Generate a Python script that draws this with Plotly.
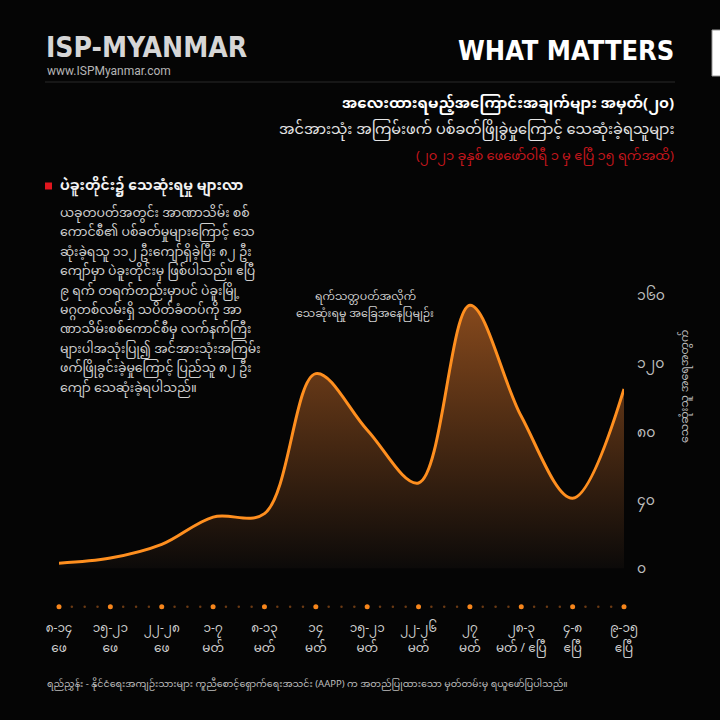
import plotly.graph_objects as go

# -- data
week_days = ["၈-၁၄", "၁၅-၂၁", "၂၂-၂၈", "၁-၇", "၈-၁၃", "၁၄",
             "၁၅-၂၁", "၂၂-၂၆", "၂၇", "၂၈-၃", "၄-၈", "၉-၁၅"]
week_months = ["ဖေ", "ဖေ", "ဖေ", "မတ်", "မတ်", "မတ်",
               "မတ်", "မတ်", "မတ်", "မတ် / ဧပြီ", "ဧပြီ", "ဧပြီ"]
deaths = [3, 6, 14, 30, 32, 114, 81, 50, 154, 89, 41, 105]
y_ticks = [0, 40, 80, 120, 160]
y_tick_labels = ["၀", "၄၀", "၈၀", "၁၂၀", "၁၆၀"]

para_lines = [
    "ယခုတပတ်အတွင်း အာဏာသိမ်း စစ်",
    "ကောင်စီ၏ ပစ်ခတ်မှုများကြောင့် သေ",
    "ဆုံးခဲ့ရသူ ၁၁၂ ဦးကျော်ရှိခဲ့ပြီး ၈၂ ဦး",
    "ကျော်မှာ ပဲခူးတိုင်းမှ ဖြစ်ပါသည်။ ဧပြီ",
    "၉ ရက် တရက်တည်းမှာပင် ပဲခူးမြို့",
    "မဂ္ဂတစ်လမ်းရှိ သပိတ်ခံတပ်ကို အာ",
    "ဏာသိမ်းစစ်ကောင်စီမှ လက်နက်ကြီး",
    "များပါအသုံးပြု၍ အင်အားသုံးအကြမ်း",
    "ဖက်ဖြိုခွင်းခဲ့မှုကြောင့် ပြည်သူ ၈၂ ဦး",
    "ကျော် သေဆုံးခဲ့ရပါသည်။",
]

W, H = 720, 720
L, R, T, B = 59, 96, 278, 109
MM = "Noto Sans Myanmar, Padauk, Myanmar Text, Noto Sans, DejaVu Sans"
HEAD = "DejaVu Sans Condensed, Liberation Sans Narrow, Arial Narrow, DejaVu Sans"


def px(x):
    return (x - L) / (W - L - R)


def py(y):
    return (H - B - y) / (H - T - B)


x_idx = list(range(len(deaths)))
dot_big = x_idx
dot_small = [i + f for i in x_idx[:-1] for f in (0.25, 0.5, 0.75)]

fig = go.Figure()

# area + line
fig.add_trace(go.Scatter(
    x=x_idx, y=deaths, mode="lines",
    line=dict(color="#ff8f1f", width=3, shape="spline", smoothing=1),
    fill="tozeroy",
    fillgradient=dict(type="vertical", start=0, stop=160,
                      colorscale=[[0, "#0c0a09"], [1, "#8a4b1d"]]),
    hoverinfo="skip", showlegend=False,
))

# dotted baseline under the chart
fig.add_trace(go.Scatter(
    x=dot_small, y=[-22.5] * len(dot_small), mode="markers",
    marker=dict(color="#6b3a14", size=2.5), cliponaxis=False,
    hoverinfo="skip", showlegend=False,
))
fig.add_trace(go.Scatter(
    x=dot_big, y=[-22.5] * len(dot_big), mode="markers",
    marker=dict(color="#f7861c", size=5), cliponaxis=False,
    hoverinfo="skip", showlegend=False,
))

axis_common = dict(range=[0, len(deaths) - 1], tickvals=x_idx, showgrid=False, zeroline=False,
                   showline=False, ticks="", fixedrange=True,
                   tickfont=dict(family=MM, size=12, color="#cfcfcf"))
fig.update_layout(
    xaxis=dict(ticktext=week_days, ticklabelstandoff=8, **axis_common),
    # second row of tick labels (month names) on an overlaid axis
    xaxis2=dict(ticktext=week_months, overlaying="x", side="bottom", anchor="y",
                ticklabelstandoff=28, **axis_common),
)
fig.update_yaxes(
    range=[-25, 170], side="right", tickvals=y_ticks, ticktext=y_tick_labels,
    showgrid=False, zeroline=False, showline=False, ticks="",
    tickfont=dict(family=MM, size=14, color="#bdbdbd"),
    ticklabelstandoff=12, fixedrange=True,
)
# invisible trace that makes xaxis2 render
fig.add_trace(go.Scatter(x=[0], y=[None], xaxis="x2", mode="markers",
                         hoverinfo="skip", showlegend=False))

ann = []
# header
ann.append(dict(x=px(44), y=py(47), text="<b>ISP-MYANMAR</b>", xanchor="left", yanchor="middle",
                font=dict(family=HEAD, size=28, color="#d6d6d6")))
ann.append(dict(x=px(45), y=py(71), text="www.ISPMyanmar.com", xanchor="left", yanchor="middle",
                font=dict(family="Roboto, Liberation Sans", size=12, color="#b5b5b5")))
ann.append(dict(x=px(676), y=py(50), text="<b>WHAT MATTERS</b>", xanchor="right", yanchor="middle",
                font=dict(family=HEAD, size=27, color="#ffffff")))
# titles
ann.append(dict(x=px(676), y=py(104), text="<b>အလေးထားရမည့်အကြောင်းအချက်များ အမှတ်(၂၀)</b>",
                xanchor="right", yanchor="middle", font=dict(family=MM, size=15, color="#ffffff")))
ann.append(dict(x=px(676), y=py(130), text="အင်အားသုံး အကြမ်းဖက် ပစ်ခတ်ဖြိုခွဲမှုကြောင့် သေဆုံးခဲ့ရသူများ",
                xanchor="right", yanchor="middle", font=dict(family=MM, size=14.5, color="#e6e6e6")))
ann.append(dict(x=px(676), y=py(157), text="(၂၀၂၁ ခုနှစ် ဖေဖော်ဝါရီ ၁ မှ ဧပြီ ၁၅ ရက်အထိ)",
                xanchor="right", yanchor="middle", font=dict(family=MM, size=13, color="#c4161c")))
# side story
ann.append(dict(x=px(58), y=py(186), text="<b>ပဲခူးတိုင်း၌ သေဆုံးရမှု များလာ</b>",
                xanchor="left", yanchor="middle", font=dict(family=MM, size=14, color="#f2f2f2")))
for k, line in enumerate(para_lines):
    ann.append(dict(x=px(58), y=py(214 + k * 19.4), text=line, xanchor="left", yanchor="middle",
                    font=dict(family=MM, size=12.5, color="#cfcfcf")))
# chart note (two lines)
ann.append(dict(x=px(365), y=py(297), text="ရက်သတ္တပတ်အလိုက်",
                xanchor="center", yanchor="middle", font=dict(family=MM, size=11, color="#cfcfcf")))
ann.append(dict(x=px(365), y=py(314), text="သေဆုံးရမှု အခြေအနေပြမျဉ်း",
                xanchor="center", yanchor="middle", font=dict(family=MM, size=11, color="#cfcfcf")))
# y axis title
ann.append(dict(x=px(685), y=py(387), text="သေဆုံးသူ အရေအတွက်", textangle=-90,
                xanchor="center", yanchor="middle", font=dict(family=MM, size=11, color="#bdbdbd")))
# source
ann.append(dict(x=px(45), y=py(684),
                text="ရည်ညွှန်း - နိုင်ငံရေးအကျဉ်းသားများ ကူညီစောင့်ရှောက်ရေးအသင်း (AAPP) က အတည်ပြုထားသော မှတ်တမ်းမှ ရယူဖော်ပြပါသည်။",
                xanchor="left", yanchor="middle", font=dict(family=MM, size=9.5, color="#bdbdbd")))
for a in ann:
    a.update(xref="paper", yref="paper", showarrow=False)

shapes = [
    dict(type="line", xref="paper", yref="paper", x0=px(45), x1=px(675), y0=py(82), y1=py(82),
         line=dict(color="#2a2a2a", width=1)),
    dict(type="rect", xref="paper", yref="paper", x0=px(712), x1=px(724), y0=py(30), y1=py(76),
         fillcolor="#ffffff", line=dict(color="#9a9a9a", width=1)),
    dict(type="rect", xref="paper", yref="paper", x0=px(45), x1=px(52), y0=py(182.5), y1=py(189.5),
         fillcolor="#e0161e", line=dict(width=0)),
]

fig.update_layout(
    width=W, height=H, margin=dict(l=L, r=R, t=T, b=B, autoexpand=False),
    paper_bgcolor="#050505", plot_bgcolor="#050505",
    annotations=ann, shapes=shapes, showlegend=False,
)

fig.write_html("out.html", config={"displayModeBar": False},
               post_script="document.body.style.margin='0';")
